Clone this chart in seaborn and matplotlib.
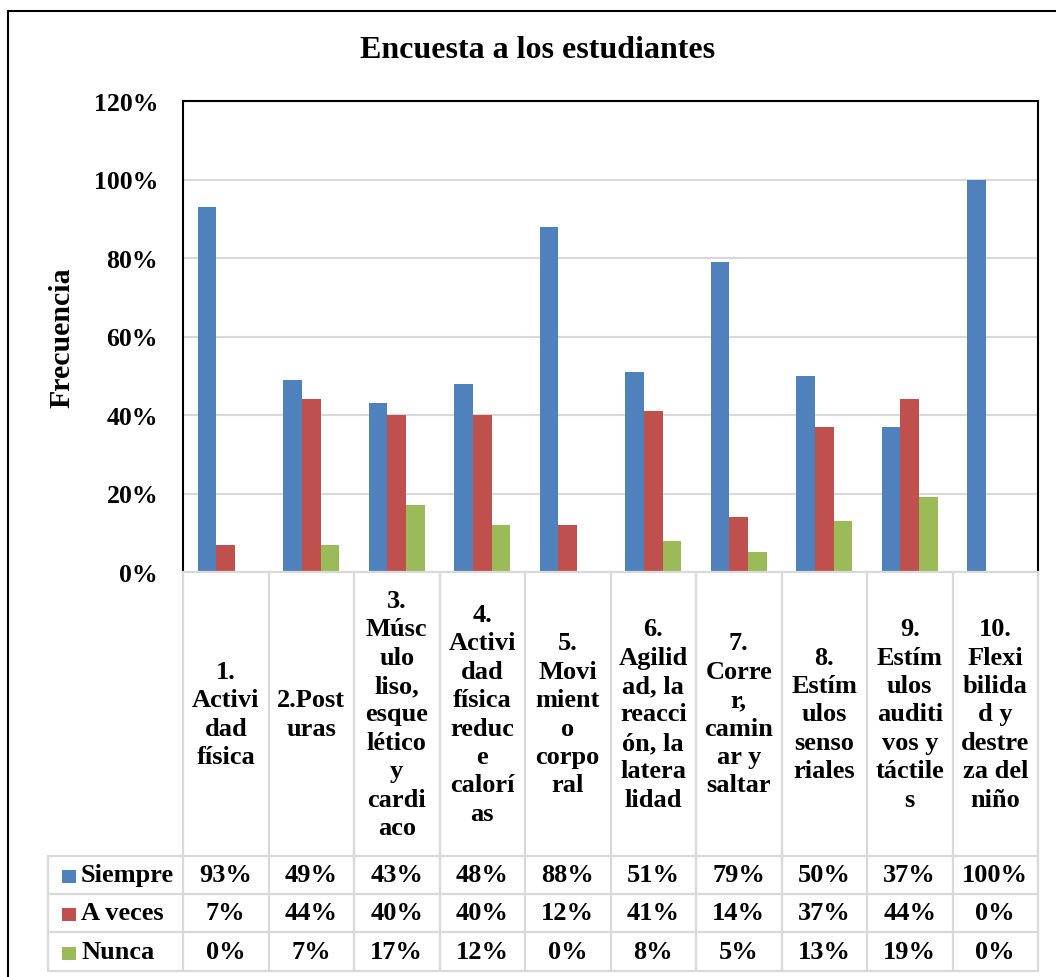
import numpy as np
import pandas as pd
import matplotlib
matplotlib.use("Agg")
import matplotlib.pyplot as plt
import seaborn as sns
from matplotlib.lines import Line2D
from matplotlib.patches import Rectangle

# ---- data ----
categories = [
    "1.\nActivi\ndad\nfísica",
    "2.Post\nuras",
    "3.\nMúsc\nulo\nliso,\nesque\nlético\ny\ncardi\naco",
    "4.\nActivi\ndad\nfísica\nreduc\ne\ncalorí\nas",
    "5.\nMovi\nmient\no\ncorpo\nral",
    "6.\nAgilid\nad, la\nreacci\nón, la\nlatera\nlidad",
    "7.\nCorre\nr,\ncamin\nar y\nsaltar",
    "8.\nEstím\nulos\nsenso\nriales",
    "9.\nEstím\nulos\nauditi\nvos y\ntáctile\ns",
    "10.\nFlexi\nbilida\nd y\ndestre\nza del\nniño",
]
series_names = ["Siempre", "A veces", "Nunca"]
siempre = [0.93, 0.49, 0.43, 0.48, 0.88, 0.51, 0.79, 0.50, 0.37, 1.00]
a_veces = [0.07, 0.44, 0.40, 0.40, 0.12, 0.41, 0.14, 0.37, 0.44, 0.00]
nunca = [0.00, 0.07, 0.17, 0.12, 0.00, 0.08, 0.05, 0.13, 0.19, 0.00]
yticks = [0.0, 0.2, 0.4, 0.6, 0.8, 1.0, 1.2]
title = "Encuesta a los estudiantes"
ylabel = "Frecuencia"

colors = ["#4F81BD", "#C0504D", "#9BBB59"]
grid_c = "#D9D9D9"

df = pd.DataFrame({
    "cat": categories * 3,
    "serie": [s for s in series_names for _ in categories],
    "val": siempre + a_veces + nunca,
})

sns.set_theme(style="white")
plt.rcParams["font.family"] = ["Liberation Serif", "DejaVu Serif"]
plt.rcParams["font.weight"] = "bold"
plt.rcParams["text.color"] = "black"
plt.rcParams["axes.labelcolor"] = "black"
plt.rcParams["xtick.color"] = "black"
plt.rcParams["ytick.color"] = "black"

W, H = 1056, 978
fig = plt.figure(figsize=(W / 100, H / 100), dpi=100)
fig.patch.set_facecolor("white")

def px(x0, y0, x1, y1):
    return [x0 / W, 1 - y1 / H, (x1 - x0) / W, (y1 - y0) / H]

L, R, T, B = 183, 1038, 102, 573
TB = 972
ax = fig.add_axes(px(L, T, R, B))
sns.barplot(data=df, x="cat", y="val", hue="serie", palette=colors,
            width=0.66, saturation=1, ax=ax, legend=False, linewidth=0,
            errorbar=None)
ax.set_xlim(-0.5, len(categories) - 0.5)
ax.set_ylim(0, 1.2)
ax.set_yticks(yticks)
ax.set_yticklabels([f"{int(round(v*100))}%" for v in yticks],
                   fontsize=18.5, fontweight="bold", color="black")
ax.tick_params(axis="y", length=0, pad=18)
ax.set_xticks([])
ax.set_xlabel("")
ax.set_ylabel("")
ax.yaxis.grid(True, color=grid_c, linewidth=1.5)
ax.set_axisbelow(True)
for s in ["top", "left", "right"]:
    ax.spines[s].set_color("black")
    ax.spines[s].set_linewidth(1.5)
ax.spines["bottom"].set_visible(False)

# ---- data table ----
tax = fig.add_axes(px(L, B, R, TB))
n = len(categories)
tax.set_xlim(-0.5, n - 0.5)
tax.set_ylim(TB, B)
tax.axis("off")
colw = (R - L) / n
leg_left = -0.5 - (L - 48) / colw
rows_y = [B, 857, 895, 933, TB]
lkw = dict(color=grid_c, linewidth=1.6, clip_on=False)
tax.plot([-0.5, n - 0.5], [B, B], **lkw)
for yy in rows_y[1:]:
    tax.plot([leg_left, n - 0.5], [yy, yy], **lkw)
for k in range(n + 1):
    tax.plot([k - 0.5, k - 0.5], [B, TB], **lkw)
tax.plot([leg_left, leg_left], [857, TB], **lkw)

fs = 19
for i, c in enumerate(categories):
    tax.text(i, (B + 857) / 2, c, ha="center", va="center",
             multialignment="center", fontsize=fs, fontweight="bold",
             linespacing=1.3, clip_on=False)
all_vals = [siempre, a_veces, nunca]
for r, (name, vals, col) in enumerate(zip(series_names, all_vals, colors)):
    yc = (rows_y[r + 1] + rows_y[r + 2]) / 2
    tax.add_patch(Rectangle((leg_left + 14 / colw, yc - 6.5 + 2), 14 / colw, 13,
                            facecolor=col, edgecolor="none", clip_on=False))
    tax.text(leg_left + 33 / colw, yc, name, ha="left", va="center",
             fontsize=fs, fontweight="bold", clip_on=False)
    for i, v in enumerate(vals):
        tax.text(i, yc, f"{int(round(v*100))}%", ha="center", va="center",
                 fontsize=fs, fontweight="bold", clip_on=False)

# ---- titles ----
fig.text(538 / W, 1 - 50 / H, title, ha="center", va="center",
         fontsize=23, fontweight="bold")
fig.text(62 / W, 1 - 338 / H, ylabel, ha="center", va="center",
         rotation=90, fontsize=21.5, fontweight="bold")

# outer chart border
fig.add_artist(Line2D([8 / W, 8 / W], [0, 1 - 12 / H], color="black",
                      linewidth=1.5, transform=fig.transFigure))
fig.add_artist(Line2D([8 / W, 1], [1 - 12 / H, 1 - 12 / H], color="black",
                      linewidth=1.5, transform=fig.transFigure))

fig.savefig("out.png", dpi=100, facecolor="white")
